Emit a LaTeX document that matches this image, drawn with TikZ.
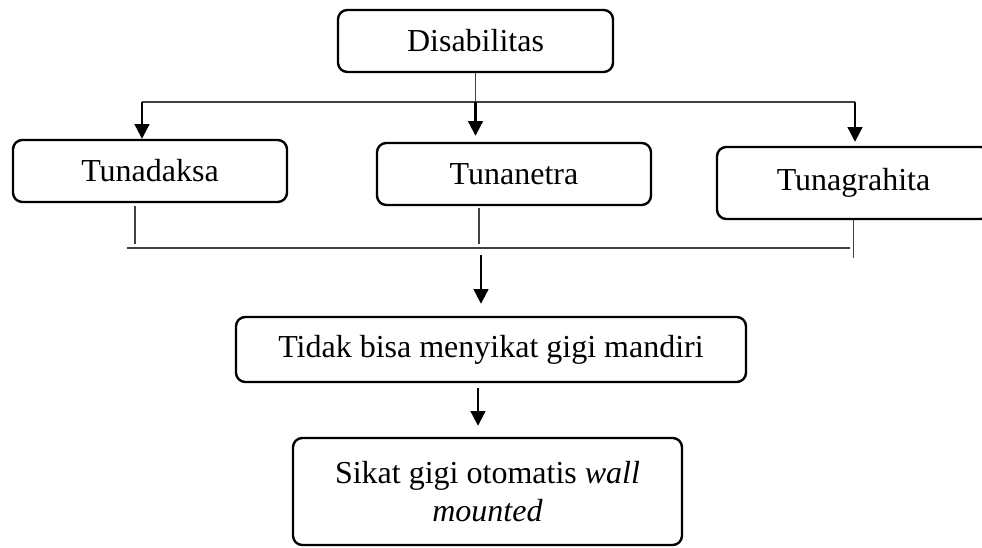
\documentclass[tikz,border=0pt]{standalone}
\usepackage{fontspec}
\setmainfont{Liberation Serif}
\usetikzlibrary{arrows.meta,calc}
\tikzset{
    box/.style={draw,line width=1.8pt,rounded corners=7pt,align=center,inner sep=0pt},
    link/.style={line width=0.8pt,color=black!75},
    arr/.style={line width=1.6pt,-{Triangle[width=11pt,length=11pt]}}
}
\newcommand\RoundBox[6]{%
    \node[box,minimum width=#4*0.75pt,minimum height=#5*0.75pt] (#1) at (#2,#3) {#6};
}

\begin{document}
\begin{tikzpicture}[x=0.75pt,y=-0.75pt,font=\fontsize{24}{28.5}\selectfont]
    \useasboundingbox (0,0) rectangle (982,548);
    \RoundBox{Dis}{475.5}{41}{275}{62}{Disabilitas}
    \RoundBox{Daksa}{150}{171}{274}{62}{Tunadaksa}
    \RoundBox{Netra}{514}{174}{274}{62}{Tunanetra}
    \RoundBox{Grahita}{853.5}{183}{273}{72}{Tunagrahita}
    \RoundBox{Tidak}{491}{349.5}{510}{65}{Tidak bisa menyikat gigi mandiri}
    \RoundBox{Sikat}{487.5}{491.5}{389}{107}{Sikat gigi otomatis \textit{wall}\\\textit{mounted}}
    % split
    \coordinate (BusStart) at (142,102);
    \coordinate (BusEnd) at (855,102);
    \draw[link] (Dis.south) -- (Dis.south |- BusStart);
    \draw[link] (BusStart) -- (BusEnd);
    \draw[arr] (BusStart) -- (BusStart |- Daksa.north);
    \draw[arr,shorten >=4.5pt] (Dis.south |- BusStart) -- (Dis.south |- Netra.north);
    \draw[arr,shorten >=3pt] (BusEnd) -- (BusEnd |- Grahita.north);
    % join
    \coordinate (JoinStart) at (127,248);
    \coordinate (JoinEnd) at (850,248);
    \coordinate (Hub) at (481,248);
    \draw[link] (JoinStart) -- (JoinEnd);
    \draw[link] ($(Daksa.south)+(-15,3)$) -- ($(Daksa.south)+(-15,41)$);
    \draw[link] ($(Netra.south)+(-35,2)$) -- ($(Netra.south)+(-35,38)$);
    \draw[link] (Grahita.south) -- ($(Grahita.south)+(0,38)$);
    \draw[arr,shorten <=5.25pt,shorten >=9pt] (Hub) -- (Hub |- Tidak.north);
    % result
    \coordinate (Drop) at ($(Sikat.north)+(-9.5,0)$);
    \draw[arr,shorten <=3.75pt,shorten >=8.25pt] (Drop |- Tidak.south) -- (Drop);
\end{tikzpicture}
\end{document}
